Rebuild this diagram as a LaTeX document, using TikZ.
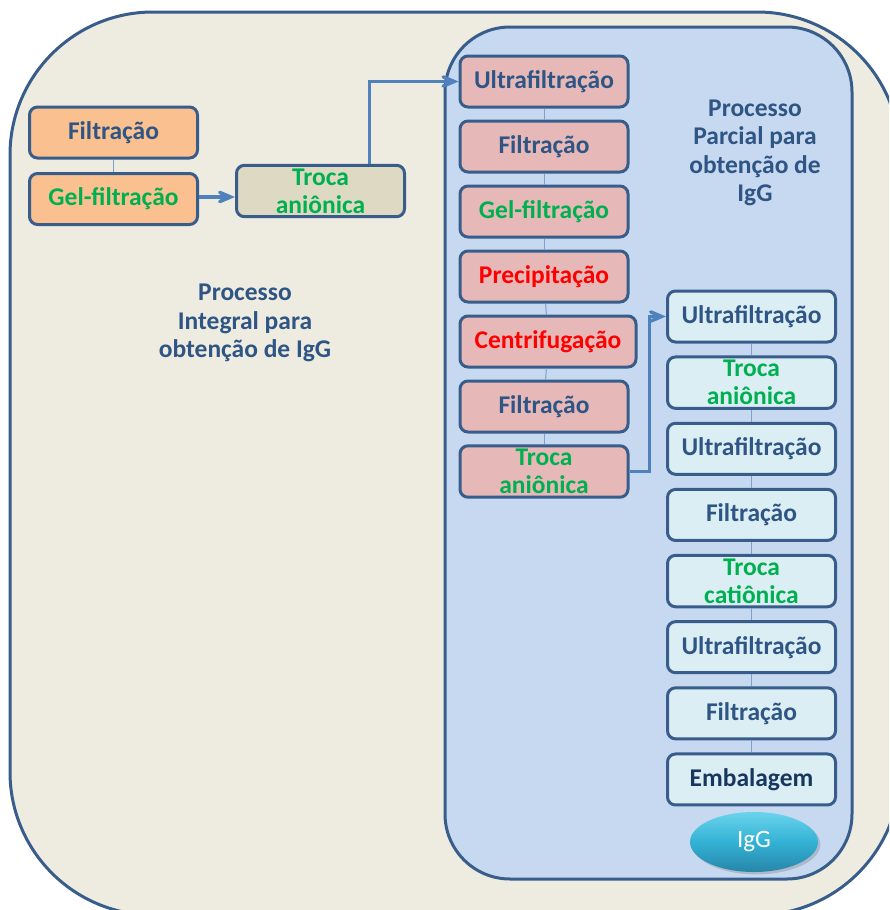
\documentclass[tikz,border=0pt]{standalone}
\usepackage{fontspec}
\setmainfont{Carlito}
\usepackage{tikz}
\usetikzlibrary{arrows,shapes,shadows}
\usetikzlibrary{positioning}
\definecolor{frame}{HTML}{385D8A}
\definecolor{beige}{HTML}{EEECE1}
\definecolor{partial}{HTML}{C6D9F0}
\definecolor{redbox}{HTML}{E6B9B8}
\definecolor{cyanbox}{HTML}{DBEEF4}
\definecolor{orangebox}{HTML}{FAC090}
\definecolor{khakibox}{HTML}{DDD9C3}
\definecolor{txtblue}{HTML}{2F5585}
\definecolor{navy}{HTML}{17375E}
\definecolor{verde}{HTML}{00B050}
\definecolor{vermelho}{HTML}{FF0000}
\definecolor{linkc}{HTML}{7EA0CB}
\definecolor{arrowc}{HTML}{4F81BD}
\definecolor{iggtop}{HTML}{6AD3EC}
\definecolor{iggmid}{HTML}{33B2D5}
\definecolor{iggbot}{HTML}{2785A8}
\tikzstyle{aS}=[every edge/.style={draw=linkc,line width=1pt,-}]
\tikzstyle{frame line}=[draw=frame,line width=3pt]
\tikzstyle{Abox}=[draw=frame,line width=3pt,rounded corners=8pt,minimum width=168pt,
                minimum height=51pt,inner xsep=9pt,align=center,text=txtblue,
                font=\fontsize{25.5}{28}\selectfont\bfseries]
\tikzstyle{Ared}=[Abox,fill=redbox,node distance=65pt]
\tikzstyle{Acyan}=[Abox,fill=cyanbox,node distance=66.14pt]
\tikzstyle{Aorange}=[Abox,fill=orangebox,node distance=66.5pt]
\tikzstyle{Akhaki}=[Abox,fill=khakibox]
\tikzstyle{flow}=[->,>=angle 45,draw=arrowc,line width=3.5pt]
\tikzstyle{title}=[align=center,text=txtblue,font=\fontsize{25.5}{28.5}\selectfont\bfseries]
\newcommand{\nextl}[4]{\node[#1,below of=#2] (#3) {#4};\path (#2) edge (#3);}

\begin{document}
\begin{tikzpicture}[x=1pt,y=-1pt,aS]
  \clip (0,0) rectangle (889,910);
  \draw[frame line,fill=beige,rounded corners=143pt] (10,12) rectangle (900,915);
  \draw[frame line,fill=partial,rounded corners=65pt] (445,27) rectangle (852,879);

  % processo integral
  \node[Aorange] (fi0) at (113.5,132.5) {Filtração};
  \nextl{Aorange,text=verde}{fi0}{gf0}{Gel-filtração}
  \node[Akhaki,text=verde] (tr0) at (320.5,191) {Troca\\aniônica};
  \node[title] (pint) at (245,323) {Processo\\Integral para\\obtenção de IgG};

  % processo parcial
  \node[Ared] (uf1) at (544,81.5) {Ultrafiltração};
  \nextl{Ared}{uf1}{fi1}{Filtração}
  \nextl{Ared,text=verde}{fi1}{gf1}{Gel-filtração}
  \nextl{Ared,text=vermelho}{gf1}{pr1}{Precipitação}
  \nextl{Ared,text=vermelho,minimum width=176pt,xshift=4pt}{pr1}{ce1}{Centrifugação}
  \nextl{Ared,xshift=-4pt}{ce1}{fi2}{Filtração}
  \nextl{Ared,text=verde}{fi2}{tr1}{Troca\\aniônica}
  \node[title] (ppar) at (755,153) {Processo\\Parcial para\\obtenção de\\IgG};

  \node[Acyan] (uf2) at (751.5,316.5) {Ultrafiltração};
  \nextl{Acyan,text=verde}{uf2}{tr2}{Troca\\aniônica}
  \nextl{Acyan}{tr2}{uf3}{Ultrafiltração}
  \nextl{Acyan}{uf3}{fi3}{Filtração}
  \nextl{Acyan,text=verde}{fi3}{tc3}{Troca\\catiônica}
  \nextl{Acyan}{tc3}{uf4}{Ultrafiltração}
  \nextl{Acyan}{uf4}{fi4}{Filtração}
  \nextl{Acyan,text=navy}{fi4}{emb}{Embalagem}
  \node[ellipse,minimum width=128pt,minimum height=60pt,top color=iggtop,
        bottom color=iggbot,middle color=iggmid,
        drop shadow={opacity=0.35},text=white,font=\fontsize{25}{28}\selectfont] (igg) at (754,842) {IgG};

  % setas
  \draw[flow] (gf0.east |- 0,197) -- (tr0.west |- 0,197);
  \draw[flow] ([xshift=49pt]tr0.north) |- (uf1.west);
  \draw[flow] (tr1.east) -- ++(20,0) |- (uf2.west);
\end{tikzpicture}
\end{document}
